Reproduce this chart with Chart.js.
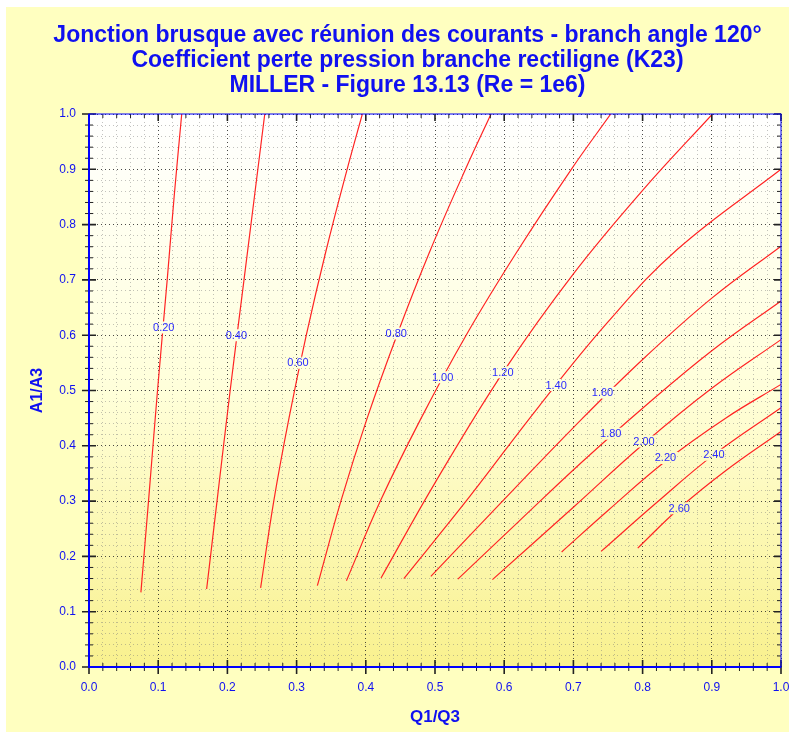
<!DOCTYPE html>
<html>
<head>
<meta charset="utf-8">
<script src="https://cdn.jsdelivr.net/npm/chart.js@4.4.0/dist/chart.umd.min.js"></script>
<style>
    html, body { margin: 0; padding: 0; background: #ffffff; }
    #wrap { width: 795px; height: 737px; }
</style>
</head>
<body>
<div id="wrap"><canvas id="chart" width="795" height="737"></canvas></div>
<script>
// K23 contour levels
const levels = ['0.20', '0.40', '0.60', '0.80', '1.00', '1.20', '1.40', '1.60', '1.80', '2.00', '2.20', '2.40', '2.60'];

// Traced curves, points are [Q1/Q3, A1/A3]
const k020 = [[0.075, 0.135], [0.086, 0.30], [0.099, 0.50], [0.113, 0.70], [0.123, 0.85], [0.134, 1.0]];
const k040 = [[0.170, 0.141], [0.185, 0.30], [0.204, 0.50], [0.224, 0.70], [0.239, 0.85], [0.254, 1.0]];
const k060 = [[0.248, 0.143], [0.267, 0.30], [0.289, 0.45], [0.314, 0.60], [0.342, 0.75], [0.373, 0.90], [0.395, 1.0]];
const k080 = [[0.330, 0.147], [0.364, 0.30], [0.402, 0.45], [0.445, 0.60], [0.492, 0.75], [0.544, 0.90], [0.581, 1.0]];
const k100 = [[0.372, 0.156], [0.421, 0.30], [0.480, 0.45], [0.545, 0.60], [0.618, 0.75], [0.697, 0.90], [0.754, 1.0]];
const k120 = [[0.422, 0.161], [0.500, 0.333], [0.600, 0.536], [0.700, 0.711], [0.800, 0.862], [0.901, 1.0]];
const k140 = [[0.455, 0.160], [0.550, 0.308], [0.650, 0.471], [0.750, 0.624], [0.850, 0.755], [1.0, 0.90]];
const k160 = [[0.494, 0.164], [0.600, 0.303], [0.700, 0.433], [0.800, 0.556], [0.900, 0.667], [1.0, 0.761]];
const k180 = [[0.533, 0.159], [0.620, 0.262], [0.710, 0.368], [0.800, 0.468], [0.900, 0.572], [1.0, 0.662]];
const k200 = [[0.583, 0.158], [0.700, 0.289], [0.800, 0.402], [0.900, 0.504], [1.0, 0.592]];
const k220 = [[0.683, 0.208], [0.750, 0.283], [0.833, 0.372], [0.920, 0.450], [1.0, 0.511]];
const k240 = [[0.740, 0.209], [0.820, 0.297], [0.903, 0.384], [1.0, 0.469]];
const k260 = [[0.793, 0.215], [0.853, 0.287], [0.920, 0.355], [1.0, 0.426]];
const curves = [k020, k040, k060, k080, k100, k120, k140, k160, k180, k200, k220, k240, k260];

// Where each level label sits on its curve
const labelQ = [0.108, 0.213, 0.302, 0.444, 0.511, 0.598, 0.675, 0.742, 0.754, 0.802, 0.833, 0.903, 0.853];
const labelA = [0.614, 0.600, 0.550, 0.603, 0.524, 0.533, 0.510, 0.496, 0.422, 0.408, 0.378, 0.384, 0.287];

// Axis range and tick steps
const axisMin = 0;
const axisMax = 1;
const majorStep = 0.1;
const minorStep = 0.02;

const FONT = '"Liberation Sans", Arial, sans-serif';
const BLUE = '#1010f0';

function isMajor(value) {
    return Math.round(value / minorStep) % Math.round(majorStep / minorStep) === 0;
}

function labelBoxes(chart) {
    const ctx = chart.ctx;
    ctx.font = '11px ' + FONT;
    return levels.map((t, i) => ({
        t: t,
        cx: chart.scales.x.getPixelForValue(labelQ[i]),
        cy: chart.scales.y.getPixelForValue(labelA[i]),
        w: ctx.measureText(t).width + 4,
        h: 12
    }));
}

// Yellow panel and gradient plot area
const backgroundPlugin = {
    id: 'background',
    beforeDraw(chart) {
        const { ctx, chartArea: a } = chart;
        ctx.save();
        ctx.fillStyle = '#ffffc0';
        ctx.fillRect(6, 7, chart.width - 12, chart.height - 12);
        const g = ctx.createLinearGradient(0, a.top, 0, a.bottom);
        g.addColorStop(0, '#ffffff');
        g.addColorStop(0.5, '#ffffda');
        g.addColorStop(1, '#f9f18e');
        ctx.fillStyle = g;
        ctx.fillRect(a.left, a.top, a.width, a.height);
        ctx.restore();
    }
};

// Leave a gap in the lines where the level labels go, then write them
const contourLabels = {
    id: 'contourLabels',
    beforeDatasetsDraw(chart) {
        const { ctx, chartArea: a } = chart;
        ctx.save();
        const boxes = labelBoxes(chart);
        ctx.beginPath();
        ctx.rect(a.left, a.top, a.width, a.height);
        boxes.forEach(b => ctx.rect(b.cx - b.w / 2, b.cy - b.h / 2, b.w, b.h));
        ctx.clip('evenodd');
    },
    afterDatasetsDraw(chart) {
        const ctx = chart.ctx;
        ctx.restore();
        ctx.save();
        const boxes = labelBoxes(chart);
        ctx.fillStyle = '#2a2aff';
        ctx.textAlign = 'center';
        ctx.textBaseline = 'middle';
        boxes.forEach(b => ctx.fillText(b.t, b.cx, b.cy + 0.5));
        ctx.restore();
    }
};

// Blue frame with black tick marks on all four sides
const axisFrame = {
    id: 'axisFrame',
    afterDraw(chart) {
        const { ctx, chartArea: a, scales: { x, y } } = chart;
        const n = Math.round((axisMax - axisMin) / minorStep);
        ctx.save();
        ctx.strokeStyle = '#222222';
        for (let i = 0; i <= n; i++) {
            const v = axisMin + i * minorStep;
            const major = isMajor(v);
            const out = major ? 7 : 4;
            const px = x.getPixelForValue(v);
            const py = y.getPixelForValue(v);
            ctx.lineWidth = major ? 1.6 : 1;
            ctx.beginPath();
            ctx.moveTo(px, a.bottom - out); ctx.lineTo(px, a.bottom + out);
            ctx.moveTo(px, a.top); ctx.lineTo(px, a.top + out);
            ctx.moveTo(a.left - out, py); ctx.lineTo(a.left + out, py);
            ctx.moveTo(a.right - out, py); ctx.lineTo(a.right, py);
            ctx.stroke();
        }
        ctx.strokeStyle = '#0000ff';
        ctx.lineWidth = 1;
        ctx.strokeRect(a.left, a.top, a.width, a.height);
        ctx.lineWidth = 2;
        ctx.beginPath();
        ctx.moveTo(a.left, a.top); ctx.lineTo(a.left, a.bottom); ctx.lineTo(a.right, a.bottom);
        ctx.stroke();
        ctx.restore();
    }
};

const gridColor = (ctx) => (ctx.tick && isMajor(ctx.tick.value)) ? 'rgba(40,40,40,0.85)' : 'rgba(120,120,120,0.45)';

new Chart(document.getElementById('chart'), {
    type: 'scatter',
    data: {
        datasets: curves.map((c, i) => ({
            label: levels[i],
            data: c.map(p => ({ x: p[0], y: p[1] })),
            showLine: true,
            borderColor: '#ff2424',
            borderWidth: 1.2,
            pointRadius: 0,
            tension: 0.4
        }))
    },
    options: {
        responsive: false,
        animation: false,
        layout: { padding: { left: 20, right: 0, top: 8, bottom: 0 } },
        plugins: {
            legend: { display: false },
            tooltip: { enabled: false },
            title: {
                display: true,
                text: ['Jonction brusque avec réunion des courants - branch angle 120°',
                       'Coefficient perte pression branche rectiligne (K23)',
                       'MILLER - Figure 13.13 (Re = 1e6)'],
                color: BLUE,
                font: { family: FONT, size: 23, weight: 'bold', lineHeight: '25px' },
                padding: { top: 15, bottom: 16 }
            }
        },
        scales: {
            x: {
                type: 'linear',
                min: axisMin,
                max: axisMax,
                afterFit(scale) { scale.height = 70; scale.paddingRight = 14; },
                ticks: {
                    stepSize: minorStep,
                    autoSkip: false,
                    maxRotation: 0,
                    padding: 13,
                    color: BLUE,
                    font: { family: FONT, size: 12 },
                    callback: (v) => isMajor(v) ? v.toFixed(1) : ''
                },
                grid: { color: gridColor, drawTicks: false, lineWidth: 1 },
                border: { display: false, dash: [1, 3] },
                title: {
                    display: true,
                    text: 'Q1/Q3',
                    color: BLUE,
                    font: { family: FONT, size: 17, weight: 'bold' },
                    padding: { top: 0, bottom: 9 }
                }
            },
            y: {
                type: 'linear',
                min: axisMin,
                max: axisMax,
                afterFit(scale) { scale.width = 69; },
                ticks: {
                    stepSize: minorStep,
                    autoSkip: false,
                    padding: 13,
                    color: BLUE,
                    font: { family: FONT, size: 12 },
                    callback: (v) => isMajor(v) ? v.toFixed(1) : ''
                },
                grid: { color: gridColor, drawTicks: false, lineWidth: 1 },
                border: { display: false, dash: [1, 3] },
                title: {
                    display: true,
                    text: 'A1/A3',
                    color: BLUE,
                    font: { family: FONT, size: 16, weight: 'bold' },
                    padding: { top: 8, bottom: 0 }
                }
            }
        }
    },
    plugins: [backgroundPlugin, contourLabels, axisFrame]
});
</script>
</body>
</html>
